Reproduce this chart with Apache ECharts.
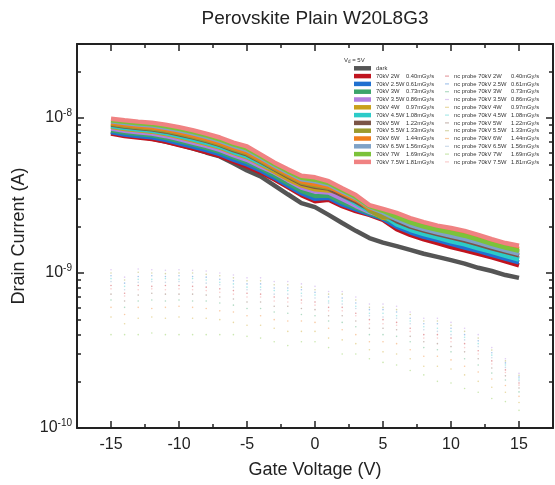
<!DOCTYPE html>
<html>
<head>
<meta charset="utf-8">
<title>Perovskite Plain W20L8G3</title>
<script src="https://cdn.jsdelivr.net/npm/echarts@6/dist/echarts.min.js"></script>
<style>
  html, body { margin: 0; padding: 0; background: #fff; }
  #chart { width: 555px; height: 485px; }
</style>
</head>
<body>
<div id="chart"></div>
<script>
// gate voltage sweep (V)
const gateVoltage = [-15, -14, -13, -12, -11, -10, -9, -8, -7, -6, -5, -4, -3, -2, -1, 0,
  1, 2, 3, 4, 5, 6, 7, 8, 9, 10, 11, 12, 13, 14, 15];

// drain current, in nA
const dark  = [8.17, 7.82, 7.59, 7.37, 7.05, 6.74, 6.36, 5.99, 5.65, 5.10, 4.59, 4.20, 3.68, 3.22, 2.82, 2.66, 2.37, 2.10, 1.87, 1.68, 1.57, 1.49, 1.41, 1.33, 1.27, 1.21, 1.15, 1.08, 1.03, 0.97, 0.93];
const i2W   = [7.93, 7.65, 7.48, 7.32, 7.05, 6.69, 6.36, 6.03, 5.69, 5.24, 4.87, 4.46, 4.02, 3.58, 3.18, 2.90, 2.97, 2.70, 2.51, 2.37, 2.20, 1.92, 1.76, 1.65, 1.56, 1.47, 1.40, 1.33, 1.26, 1.19, 1.12];
const i2_5W = [8.11, 7.83, 7.66, 7.50, 7.22, 6.87, 6.54, 6.20, 5.85, 5.39, 5.02, 4.58, 4.12, 3.67, 3.27, 3.01, 3.06, 2.77, 2.57, 2.40, 2.24, 1.99, 1.83, 1.71, 1.63, 1.54, 1.46, 1.39, 1.31, 1.24, 1.17];
const i3W   = [8.33, 8.05, 7.87, 7.72, 7.46, 7.10, 6.75, 6.41, 6.04, 5.58, 5.20, 4.73, 4.25, 3.79, 3.39, 3.14, 3.16, 2.86, 2.64, 2.44, 2.27, 2.09, 1.92, 1.80, 1.71, 1.63, 1.55, 1.47, 1.39, 1.31, 1.24];
const i3_5W = [8.54, 8.27, 8.09, 7.93, 7.66, 7.30, 6.95, 6.61, 6.23, 5.76, 5.37, 4.86, 4.45, 3.97, 3.56, 3.35, 3.31, 3.00, 2.71, 2.48, 2.32, 2.14, 1.97, 1.85, 1.76, 1.67, 1.59, 1.51, 1.42, 1.35, 1.28];
const i4W   = [8.77, 8.50, 8.32, 8.16, 7.89, 7.54, 7.18, 6.82, 6.43, 5.95, 5.57, 5.03, 4.51, 4.03, 3.67, 3.47, 3.41, 3.29, 3.07, 2.55, 2.27, 2.24, 2.07, 1.94, 1.85, 1.77, 1.69, 1.59, 1.50, 1.42, 1.35];
const i4_5W = [8.87, 8.60, 8.41, 8.26, 7.99, 7.65, 7.29, 6.92, 6.52, 6.03, 5.65, 5.10, 4.68, 4.36, 3.94, 3.79, 3.65, 3.17, 2.82, 2.51, 2.38, 2.06, 1.90, 1.78, 1.69, 1.60, 1.53, 1.44, 1.37, 1.29, 1.22];
const i5W   = [9.06, 8.81, 8.61, 8.46, 8.19, 7.85, 7.49, 7.11, 6.70, 6.21, 5.82, 5.23, 4.68, 4.19, 3.78, 3.60, 3.50, 3.17, 2.89, 2.58, 2.42, 2.16, 1.99, 1.88, 1.78, 1.70, 1.62, 1.53, 1.44, 1.37, 1.30];
const i5_5W = [9.16, 8.92, 8.72, 8.56, 8.30, 7.96, 7.59, 7.21, 6.79, 6.30, 5.90, 5.30, 4.73, 4.25, 3.83, 3.66, 3.55, 3.39, 3.10, 2.53, 2.30, 2.28, 2.11, 1.98, 1.88, 1.80, 1.72, 1.63, 1.53, 1.44, 1.37];
const i6W   = [9.30, 9.06, 8.87, 8.72, 8.44, 8.11, 7.74, 7.34, 6.92, 6.42, 6.02, 5.40, 4.82, 4.33, 3.91, 3.75, 3.61, 3.27, 2.97, 2.63, 2.49, 2.35, 2.18, 2.05, 1.94, 1.87, 1.79, 1.69, 1.60, 1.50, 1.43];
const i6_5W = [9.52, 9.28, 9.07, 8.93, 8.65, 8.32, 7.96, 7.55, 7.12, 6.61, 6.21, 5.55, 4.94, 4.45, 4.02, 3.90, 3.72, 3.36, 3.05, 2.67, 2.46, 2.22, 2.04, 1.92, 1.82, 1.74, 1.66, 1.57, 1.48, 1.40, 1.33];
const i7W   = [9.68, 9.45, 9.25, 9.10, 8.84, 8.50, 8.13, 7.72, 7.27, 6.75, 6.36, 5.67, 5.04, 4.54, 4.11, 4.00, 3.80, 3.43, 3.10, 2.70, 2.52, 2.30, 2.12, 1.99, 1.90, 1.82, 1.74, 1.64, 1.54, 1.46, 1.39];
const i7_5W = [9.90, 9.68, 9.47, 9.33, 9.06, 8.73, 8.35, 7.93, 7.48, 6.94, 6.55, 5.82, 5.17, 4.66, 4.24, 4.14, 3.91, 3.52, 3.18, 2.74, 2.59, 2.44, 2.26, 2.13, 2.02, 1.95, 1.87, 1.76, 1.65, 1.56, 1.50];

// nc probe runs, in units of 1e-10 A
const nc2W   = [8.3, 7.4, 8.3, 8.2, 8.3, 8.3, 8.2, 8.1, 7.9, 7.7, 7.4, 7.3, 7.0, 6.9, 6.7, 6.5, 6.0, 6.0, 5.5, 5.0, 5.0, 4.8, 4.4, 4.0, 4.0, 3.8, 3.5, 3.15, 2.71, 2.37, 1.95];
const nc2_5W = [9.6, 8.6, 9.5, 9.6, 9.5, 9.6, 9.5, 9.4, 9.1, 8.9, 8.5, 8.5, 8.0, 8.0, 7.8, 7.5, 7.0, 6.9, 6.4, 5.8, 5.8, 5.6, 5.1, 4.7, 4.7, 4.4, 4.0, 3.65, 3.06, 2.63, 2.13];
const nc3W   = [6.7, 6.0, 6.6, 6.7, 6.6, 6.7, 6.6, 6.6, 6.4, 6.2, 5.9, 5.9, 5.6, 5.5, 5.4, 5.3, 4.9, 4.8, 4.5, 4.0, 4.0, 3.9, 3.6, 3.3, 3.2, 3.1, 2.8, 2.55, 2.26, 2.04, 1.71];
const nc3_5W = [10.5, 9.4, 10.6, 10.5, 10.4, 10.5, 10.4, 10.3, 10.0, 9.7, 9.3, 9.3, 8.8, 8.8, 8.5, 8.2, 7.6, 7.6, 7.0, 6.3, 6.3, 6.1, 5.6, 5.1, 5.1, 4.8, 4.4, 4.0, 3.3, 2.8, 2.25];
const nc4W   = [5.2, 4.7, 5.1, 5.2, 5.1, 5.2, 5.1, 5.1, 5.0, 4.8, 4.6, 4.6, 4.4, 4.2, 4.2, 4.2, 3.8, 3.7, 3.5, 3.2, 3.1, 3.0, 2.8, 2.5, 2.5, 2.4, 2.2, 2.0, 1.83, 1.70, 1.46];
const nc4_5W = [9.2, 8.2, 9.1, 9.1, 9.2, 9.1, 9.2, 9.0, 8.7, 8.5, 8.1, 8.1, 7.7, 7.7, 7.4, 7.2, 6.6, 6.6, 6.1, 5.5, 5.5, 5.3, 4.9, 4.5, 4.4, 4.2, 3.85, 3.5, 2.95, 2.55, 2.07];
const nc5W   = [7.3, 6.6, 7.2, 7.4, 7.3, 7.3, 7.3, 7.2, 7.0, 6.8, 6.5, 6.5, 6.1, 6.1, 5.9, 5.8, 5.3, 5.3, 4.9, 4.4, 4.4, 4.3, 3.9, 3.6, 3.5, 3.35, 3.1, 2.8, 2.44, 2.17, 1.81];
const nc5_5W = [10.0, 9.0, 10.1, 10.0, 9.9, 10.0, 10.0, 9.8, 9.6, 9.3, 8.9, 8.9, 8.4, 8.4, 8.1, 7.8, 7.3, 7.3, 6.7, 6.0, 6.0, 5.8, 5.4, 4.9, 4.9, 4.6, 4.2, 3.8, 3.18, 2.71, 2.19];
const nc6W   = [6.0, 5.4, 6.0, 5.9, 6.0, 6.1, 6.0, 5.9, 5.7, 5.6, 5.3, 5.3, 5.0, 4.9, 4.9, 4.8, 4.4, 4.3, 4.0, 3.6, 3.6, 3.5, 3.2, 2.9, 2.9, 2.75, 2.5, 2.3, 2.07, 1.88, 1.60];
const nc6_5W = [8.8, 7.8, 8.7, 8.8, 8.7, 8.8, 8.7, 8.6, 8.4, 8.1, 7.8, 7.8, 7.3, 7.3, 7.1, 6.9, 6.4, 6.3, 5.9, 5.3, 5.2, 5.1, 4.7, 4.3, 4.2, 4.0, 3.7, 3.35, 2.84, 2.46, 2.02];
const nc7W   = [4.0, 4.0, 4.0, 4.1, 4.0, 4.0, 4.0, 4.0, 4.0, 4.0, 3.9, 3.8, 3.6, 3.4, 3.6, 3.6, 3.3, 3.0, 3.0, 2.8, 2.65, 2.55, 2.35, 2.2, 2.0, 1.95, 1.8, 1.7, 1.55, 1.48, 1.30];
const nc7_5W = [7.9, 7.1, 7.8, 7.9, 7.8, 7.9, 7.8, 7.7, 7.5, 7.3, 7.0, 7.0, 6.6, 6.5, 6.4, 6.2, 5.7, 5.7, 5.3, 4.7, 4.7, 4.6, 4.2, 3.8, 3.8, 3.6, 3.3, 3.0, 2.59, 2.28, 1.89];

const runNames = ['70kV 2W 0.40mGy/s', '70kV 2.5W 0.61mGy/s', '70kV 3W 0.73mGy/s', '70kV 3.5W 0.86mGy/s',
  '70kV 4W 0.97mGy/s', '70kV 4.5W 1.08mGy/s', '70kV 5W 1.22mGy/s', '70kV 5.5W 1.33mGy/s',
  '70kV 6W 1.44mGy/s', '70kV 6.5W 1.56mGy/s', '70kV 7W 1.69mGy/s', '70kV 7.5W 1.81mGy/s'];
const lightRuns = [i2W, i2_5W, i3W, i3_5W, i4W, i4_5W, i5W, i5_5W, i6W, i6_5W, i7W, i7_5W];
const probeRuns = [nc2W, nc2_5W, nc3W, nc3_5W, nc4W, nc4_5W, nc5W, nc5_5W, nc6W, nc6_5W, nc7W, nc7_5W];

const xMajorTicks = [-15, -10, -5, 0, 5, 10, 15];
const xMinorTicks = [-12.5, -7.5, -2.5, 2.5, 7.5, 12.5];
const yMinorTicks = [2e-10, 3e-10, 4e-10, 5e-10, 6e-10, 7e-10, 8e-10, 9e-10,
  2e-9, 3e-9, 4e-9, 5e-9, 6e-9, 7e-9, 8e-9, 9e-9, 2e-8];

const darkColor = '#555555';
const palette = ['#c0141f', '#2070d0', '#3ba46b', '#b27fe0', '#c9a01c', '#2ccbc8',
  '#7b5446', '#9c9a2e', '#f07d1e', '#7fa2c7', '#7cc23a', '#f08282'];

const FONT = '"Liberation Sans", Arial, sans-serif';
const INK = '#222';
const Y_MIN = 1e-10, Y_MAX = 3e-8;

function pairs(values, scale) {
  return values.map((v, i) => [gateVoltage[i], v * scale]);
}

function legendText(name) {
  const cut = name.lastIndexOf(' ');
  if (cut < 0) return '{a|' + name + '}';
  return '{a|' + name.slice(0, cut) + '}{b|' + name.slice(cut + 1) + '}';
}

const series = [{
  name: 'dark', type: 'line', data: pairs(dark, 1e-9),
  showSymbol: false, color: darkColor, lineStyle: { width: 4.5, color: darkColor }
}];
runNames.forEach((name, i) => {
  series.push({
    name, type: 'line', data: pairs(lightRuns[i], 1e-9),
    showSymbol: false, color: palette[i], lineStyle: { width: 4.5, color: palette[i] }
  });
});
runNames.forEach((name, i) => {
  series.push({
    name: 'nc probe ' + name, type: 'scatter', data: pairs(probeRuns[i], 1e-10),
    symbol: 'circle', symbolSize: 1.6, color: palette[i],
    itemStyle: { color: palette[i], opacity: 0.4 }
  });
});

function xAxisBox(position, ticks, length, withLine, withLabels) {
  return {
    type: 'value', position, min: -17.5, max: 17.5,
    axisLine: { show: withLine, onZero: false, lineStyle: { color: INK, width: 2 } },
    axisTick: { show: true, inside: true, length, customValues: ticks, lineStyle: { color: INK, width: 1.5 } },
    axisLabel: withLabels
      ? { customValues: ticks, fontSize: 16, color: INK, fontFamily: FONT, margin: 9 }
      : { show: false },
    splitLine: { show: false }
  };
}

function yMinorAxis(position) {
  return {
    type: 'value', position, min: -10, max: Math.log10(Y_MAX),
    axisLine: { show: false, onZero: false },
    axisTick: { show: true, inside: true, length: 4, customValues: yMinorTicks.map(Math.log10),
      lineStyle: { color: INK, width: 1.5 } },
    axisLabel: { show: false },
    splitLine: { show: false }
  };
}

function powerLabel(v) {
  const p = Math.log10(v);
  const n = Math.round(p);
  return Math.abs(p - n) < 1e-6 ? '{b|10}{s|' + n + '}' : '';
}

const option = {
  animation: false,
  backgroundColor: '#fff',
  title: [{
    text: 'Perovskite Plain W20L8G3',
    left: 315, top: 9, textAlign: 'center', padding: 0,
    textStyle: { fontSize: 19, fontWeight: 'normal', color: INK, fontFamily: FONT }
  }, {
    text: 'V{d|d} = 5V',
    left: 344, top: 57, padding: 0,
    textStyle: { fontSize: 6, fontWeight: 'normal', color: '#333', fontFamily: FONT,
      rich: { d: { fontSize: 4.5, verticalAlign: 'bottom', lineHeight: 7 } } }
  }],
  legend: [{
    data: ['dark'].concat(runNames),
    orient: 'vertical', left: 354, top: 65.3, padding: 0,
    itemWidth: 17, itemHeight: 4.5, itemGap: 1.8, icon: 'rect',
    selectedMode: false,
    formatter: legendText,
    textStyle: {
      fontSize: 5.8, color: '#333', fontFamily: FONT,
      rich: { a: { width: 30, fontSize: 5.8, lineHeight: 6 }, b: { fontSize: 5.8, lineHeight: 6 } }
    }
  }, {
    data: runNames.map(n => 'nc probe ' + n),
    orient: 'vertical', left: 445, top: 73.1, padding: 0,
    itemWidth: 4, itemHeight: 1.2, itemGap: 1.8, icon: 'rect',
    selectedMode: false,
    formatter: legendText,
    textStyle: {
      fontSize: 5.8, color: '#333', fontFamily: FONT,
      rich: { a: { width: 57, fontSize: 5.8, lineHeight: 6 }, b: { fontSize: 5.8, lineHeight: 6 } }
    }
  }],
  grid: { left: 77, right: 2, top: 44, bottom: 57, outerBoundsMode: 'none' },
  xAxis: [
    Object.assign(xAxisBox('bottom', xMajorTicks, 7, true, true), {
      name: 'Gate Voltage (V)', nameLocation: 'middle', nameGap: 33,
      nameTextStyle: { fontSize: 18, color: INK, fontFamily: FONT }
    }),
    xAxisBox('bottom', xMinorTicks, 4, false, false),
    xAxisBox('top', xMajorTicks, 7, true, false),
    xAxisBox('top', xMinorTicks, 4, false, false)
  ],
  yAxis: [{
    type: 'log', position: 'left', min: Y_MIN, max: Y_MAX,
    name: 'Drain Current (A)', nameLocation: 'middle', nameGap: 49,
    nameTextStyle: { fontSize: 18, color: INK, fontFamily: FONT },
    axisLine: { show: true, onZero: false, lineStyle: { color: INK, width: 2 } },
    axisTick: { show: true, inside: true, length: 7, lineStyle: { color: INK, width: 1.5 } },
    axisLabel: {
      formatter: powerLabel, margin: 5,
      rich: {
        b: { fontSize: 16, lineHeight: 20, color: INK, fontFamily: FONT },
        s: { fontSize: 10, lineHeight: 10, verticalAlign: 'top', color: INK, fontFamily: FONT }
      }
    },
    splitLine: { show: false }
  },
  yMinorAxis('left'),
  {
    type: 'log', position: 'right', min: Y_MIN, max: Y_MAX,
    axisLine: { show: true, onZero: false, lineStyle: { color: INK, width: 2 } },
    axisTick: { show: true, inside: true, length: 7, lineStyle: { color: INK, width: 1.5 } },
    axisLabel: { show: false },
    splitLine: { show: false }
  },
  yMinorAxis('right')],
  series
};

const chart = echarts.init(document.getElementById('chart'));
chart.setOption(option);
</script>
</body>
</html>
